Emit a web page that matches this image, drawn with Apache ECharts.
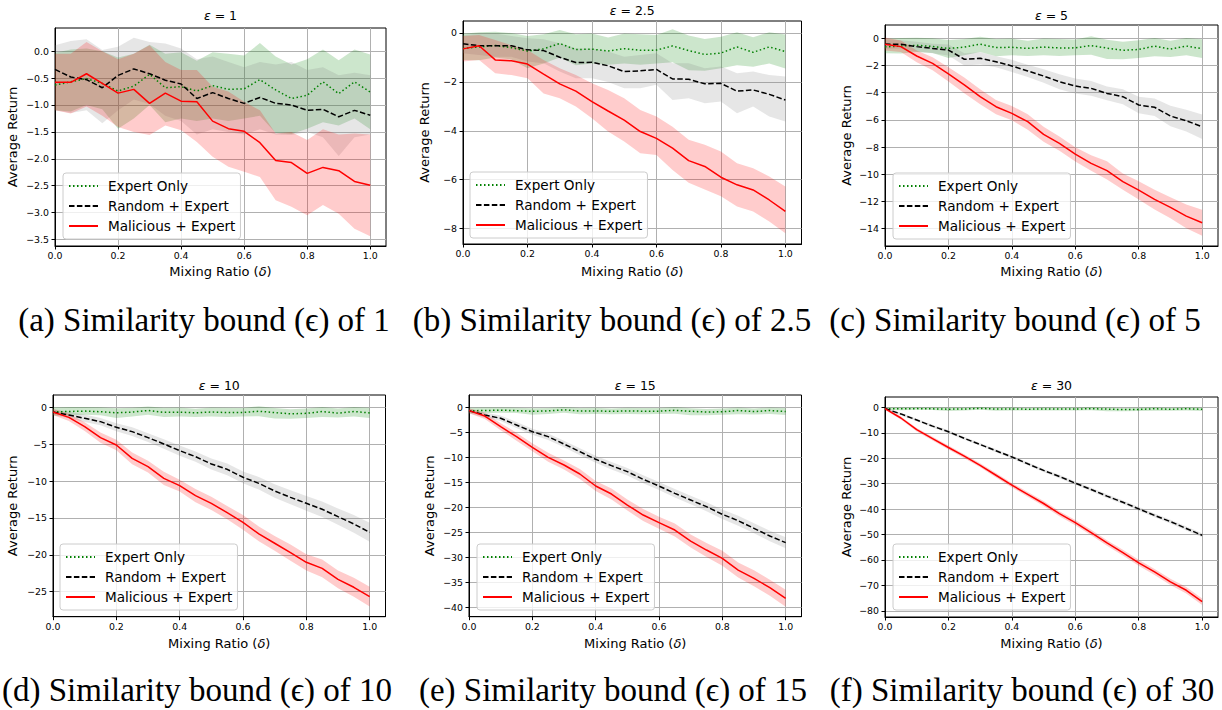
<!DOCTYPE html>
<html><head><meta charset="utf-8">
<script src="https://cdn.jsdelivr.net/npm/echarts@6/dist/echarts.min.js"></script>
<style>html,body{margin:0;padding:0;background:#fff}#c{width:1222px;height:710px}</style>
</head><body><div id="c"></div>
<script>
// ---------- data ----------
const xValues = [0, 0.05, 0.1, 0.15, 0.2, 0.25, 0.3, 0.35, 0.4, 0.45, 0.5, 0.55, 0.6, 0.65, 0.7, 0.75, 0.8, 0.85, 0.9, 0.95, 1.0];
const xTicks = [0, 0.2, 0.4, 0.6, 0.8, 1.0];

const epsilonLabels = ['1', '2.5', '5', '10', '15', '30'];
const captionLetters = ['a', 'b', 'c', 'd', 'e', 'f'];
const seriesNames = ['Expert Only', 'Random + Expert', 'Malicious + Expert'];

const expertMean = [-0.63,-0.57,-0.51,-0.6,-0.74,-0.65,-0.43,-0.68,-0.66,-0.74,-0.64,-0.71,-0.7,-0.53,-0.72,-0.88,-0.82,-0.57,-0.79,-0.57,-0.76];
const expertHigh = [-0.03,0.03,0.05,0.0,-0.12,-0.05,0.12,-0.05,-0.02,-0.18,-0.02,-0.05,-0.08,0.15,-0.1,-0.25,-0.15,0.03,-0.17,0.03,-0.06];
const expertLow  = [-1.1,-1.12,-1.0,-1.08,-1.44,-1.25,-1.0,-1.32,-1.25,-1.3,-1.25,-1.3,-1.25,-1.2,-1.52,-1.54,-1.44,-1.32,-1.38,-1.25,-1.45];

// (a) eps = 1
const randMeanA = [-0.34,-0.48,-0.53,-0.68,-0.45,-0.33,-0.42,-0.54,-0.61,-0.88,-0.77,-0.88,-0.97,-0.86,-0.97,-1.0,-1.1,-1.08,-1.22,-1.1,-1.19];
const randHighA = [0.11,0.19,0.22,0.02,0.08,0.25,0.17,0.14,0.05,-0.15,-0.1,-0.2,-0.3,-0.2,-0.25,-0.2,-0.35,-0.3,-0.45,-0.4,-0.45];
const randLowA  = [-1.1,-1.15,-1.1,-1.34,-1.1,-0.9,-0.98,-1.2,-1.3,-1.55,-1.45,-1.5,-1.55,-1.45,-1.55,-1.56,-1.5,-1.6,-1.95,-1.6,-1.55];
const malMeanA  = [-0.58,-0.58,-0.42,-0.6,-0.78,-0.71,-0.97,-0.78,-0.93,-0.94,-1.3,-1.44,-1.49,-1.7,-2.03,-2.07,-2.27,-2.16,-2.22,-2.42,-2.49];
const malHighA  = [-0.05,-0.05,0.17,0.0,-0.15,-0.05,0.11,-0.2,-0.35,-0.35,-0.66,-0.75,-0.94,-1.1,-1.53,-1.5,-1.65,-1.45,-1.55,-1.53,-1.55];
const malLowA   = [-1.1,-1.16,-1.03,-1.2,-1.41,-1.5,-1.56,-1.38,-1.47,-1.69,-1.96,-2.15,-2.24,-2.34,-2.77,-2.89,-3.05,-2.86,-3.02,-3.3,-3.44];

// (b) eps = 2.5
const randMeanB = [-0.44,-0.52,-0.52,-0.52,-0.69,-0.72,-0.99,-1.21,-1.2,-1.34,-1.58,-1.55,-1.49,-1.88,-1.89,-2.08,-2.06,-2.38,-2.33,-2.51,-2.74];
const randHighB = [-0.08,-0.02,-0.02,-0.12,-0.22,-0.26,-0.42,-0.63,-0.63,-0.76,-0.97,-0.9,-0.83,-1.24,-1.24,-1.44,-1.37,-1.65,-1.58,-1.72,-1.78];
const randLowB  = [-0.83,-0.9,-0.97,-0.97,-1.17,-1.24,-1.58,-1.85,-1.85,-2.0,-2.26,-2.26,-2.12,-2.74,-2.67,-2.87,-2.8,-3.28,-3.01,-3.42,-3.62];
const malMeanB  = [-0.65,-0.52,-1.1,-1.14,-1.27,-1.68,-2.08,-2.38,-2.81,-3.19,-3.56,-4.03,-4.31,-4.71,-5.22,-5.46,-5.9,-6.21,-6.42,-6.83,-7.3];
const malHighB  = [-0.12,-0.08,-0.29,-0.5,-0.7,-1.1,-1.44,-1.72,-2.06,-2.33,-2.67,-3.15,-3.42,-3.83,-4.37,-4.57,-4.85,-5.33,-5.53,-5.87,-6.28];
const malLowB   = [-1.17,-1.1,-1.65,-1.72,-1.85,-2.47,-2.67,-3.01,-3.49,-4.03,-4.44,-4.92,-4.99,-5.6,-6.13,-6.4,-6.68,-7.1,-7.3,-7.71,-8.19];

// (c) eps = 5
const randMeanC = [-0.42,-0.44,-0.61,-0.74,-0.86,-1.54,-1.47,-1.72,-2.03,-2.4,-2.77,-3.19,-3.51,-3.68,-4.05,-4.29,-4.9,-5.07,-5.71,-6.06,-6.5];
const randHighC = [-0.07,-0.14,-0.26,-0.39,-0.46,-1.09,-1.02,-1.32,-1.58,-1.95,-2.27,-2.64,-2.96,-3.13,-3.55,-3.74,-4.3,-4.42,-4.96,-5.26,-5.6];
const randLowC  = [-0.77,-0.74,-0.96,-1.09,-1.26,-1.99,-1.92,-2.12,-2.48,-2.85,-3.27,-3.74,-4.06,-4.23,-4.55,-4.84,-5.5,-5.72,-6.46,-6.86,-7.4];
const malMeanC  = [-0.44,-0.61,-1.3,-1.84,-2.62,-3.43,-4.29,-5.03,-5.52,-6.13,-7.06,-7.72,-8.51,-9.19,-9.73,-10.54,-11.16,-11.84,-12.43,-13.07,-13.56];
const malHighC  = [0.06,-0.16,-0.9,-1.39,-2.12,-2.88,-3.74,-4.53,-4.97,-5.58,-6.51,-7.22,-8.01,-8.59,-9.03,-9.94,-10.51,-11.14,-11.68,-12.22,-12.61];
const malLowC   = [-0.89,-1.01,-1.75,-2.34,-3.17,-4.03,-4.84,-5.58,-6.02,-6.73,-7.61,-8.27,-9.06,-9.74,-10.38,-11.14,-11.86,-12.59,-13.23,-13.97,-14.51];

// (d) eps = 10
const randMeanD = [-0.63,-1.04,-1.49,-1.94,-2.71,-3.3,-4.11,-4.97,-5.88,-6.69,-7.69,-8.41,-9.49,-10.31,-11.35,-12.21,-13.02,-13.83,-14.83,-15.82,-16.95];
const randHighD = [-0.23,-0.59,-0.99,-1.44,-2.16,-2.7,-3.51,-4.32,-5.18,-5.99,-6.94,-7.61,-8.69,-9.46,-10.45,-11.26,-12.02,-12.78,-13.73,-14.62,-15.65];
const randLowD  = [-1.03,-1.49,-1.99,-2.44,-3.26,-3.9,-4.71,-5.62,-6.58,-7.39,-8.44,-9.21,-10.29,-11.16,-12.25,-13.16,-14.02,-14.88,-15.93,-17.02,-18.25];
const malMeanD  = [-0.63,-1.36,-2.62,-4.11,-5.11,-6.92,-8.05,-9.63,-10.62,-11.98,-13.02,-14.29,-15.6,-17.18,-18.44,-19.71,-21.02,-21.84,-23.33,-24.41,-25.68];
const malHighD  = [-0.23,-0.86,-2.02,-3.41,-4.41,-6.12,-7.25,-8.73,-9.82,-11.08,-12.12,-13.39,-14.6,-16.18,-17.44,-18.61,-19.92,-20.64,-22.13,-23.11,-24.33];
const malLowD   = [-1.03,-1.86,-3.22,-4.81,-5.81,-7.72,-8.85,-10.53,-11.42,-12.88,-13.92,-15.19,-16.6,-18.18,-19.44,-20.81,-22.12,-23.04,-24.53,-25.71,-27.03];

// (e) eps = 15
const randMeanE = [-0.6,-1.47,-2.13,-3.47,-4.8,-5.8,-7.27,-8.8,-10.33,-11.6,-12.8,-14.33,-15.67,-17.13,-18.47,-19.8,-21.33,-22.6,-24.13,-25.67,-27.0];
const randHighE = [-0.1,-0.97,-1.58,-2.87,-4.2,-5.15,-6.62,-8.1,-9.63,-10.85,-12.05,-13.53,-14.87,-16.28,-17.62,-18.9,-20.38,-21.6,-23.13,-24.62,-25.9];
const randLowE  = [-1.1,-1.97,-2.68,-4.07,-5.4,-6.45,-7.92,-9.5,-11.03,-12.35,-13.55,-15.13,-16.47,-17.98,-19.32,-20.7,-22.28,-23.6,-25.13,-26.72,-28.1];
const malMeanE  = [-0.6,-1.67,-3.8,-5.8,-7.93,-9.93,-11.47,-13.27,-15.67,-17.27,-19.47,-21.47,-23.0,-24.47,-26.67,-28.47,-30.13,-32.47,-34.13,-36.0,-38.13];
const malHighE  = [-0.1,-1.07,-3.1,-5.0,-7.13,-9.03,-10.57,-12.27,-14.67,-16.17,-18.37,-20.27,-21.8,-23.17,-25.37,-27.07,-28.63,-30.97,-32.53,-34.4,-36.43];
const malLowE   = [-1.1,-2.27,-4.5,-6.6,-8.73,-10.83,-12.37,-14.27,-16.67,-18.37,-20.57,-22.67,-24.2,-25.77,-27.97,-29.87,-31.63,-33.97,-35.73,-37.6,-39.83];

// (f) eps = 30
const randMeanF = [-0.5,-2.6,-5.0,-7.4,-9.6,-12.2,-14.6,-17.1,-19.5,-22.2,-24.8,-27.2,-29.8,-32.3,-34.9,-37.3,-39.9,-42.5,-44.9,-47.6,-50.3];
const randHighF = [0.0,-2.1,-4.5,-6.9,-9.05,-11.65,-14.05,-16.5,-18.9,-21.6,-24.2,-26.55,-29.15,-31.65,-34.2,-36.6,-39.2,-41.75,-44.15,-46.8,-49.5];
const randLowF  = [-1.0,-3.1,-5.5,-7.9,-10.15,-12.75,-15.15,-17.7,-20.1,-22.8,-25.4,-27.85,-30.45,-32.95,-35.6,-38.0,-40.6,-43.25,-45.65,-48.4,-51.1];
const malMeanF  = [-0.5,-4.2,-8.8,-12.3,-15.8,-19.2,-22.8,-26.7,-30.6,-34.2,-37.8,-41.8,-45.3,-49.2,-53.3,-57.1,-61.1,-64.7,-68.6,-71.9,-76.4];
const malHighF  = [0.1,-3.6,-8.1,-11.6,-15.0,-18.4,-22.0,-25.8,-29.7,-33.3,-36.8,-40.8,-44.3,-48.1,-52.2,-56.0,-59.9,-63.5,-67.4,-70.6,-75.1];
const malLowF   = [-1.1,-4.8,-9.5,-13.0,-16.6,-20.0,-23.6,-27.6,-31.5,-35.1,-38.8,-42.8,-46.3,-50.3,-54.4,-58.2,-62.3,-65.9,-69.8,-73.2,-77.7];

// y tick labels per panel
const yTicksA = [0, -0.5, -1, -1.5, -2, -2.5, -3, -3.5];
const yTicksB = [0, -2, -4, -6, -8];
const yTicksC = [0, -2, -4, -6, -8, -10, -12, -14];
const yTicksD = [0, -5, -10, -15, -20, -25];
const yTicksE = [0, -5, -10, -15, -20, -25, -30, -35, -40];
const yTicksF = [0, -10, -20, -30, -40, -50, -60, -70, -80];

// ---------- layout / style ----------
const panels = [
  {rand:[randLowA,randMeanA,randHighA], mal:[malLowA,malMeanA,malHighA], ticks:yTicksA, dec:1, ymin:-3.62, ymax:0.43,
   g:[55,28,331,218], yGap:36, xGap:19, titleY:15, leg:[63,173], cap:[204,320]},
  {rand:[randLowB,randMeanB,randHighB], mal:[malLowB,malMeanB,malHighB], ticks:yTicksB, dec:0, ymin:-8.63, ymax:0.49,
   g:[463,21,338.5,223], yGap:32, xGap:21, titleY:10, leg:[470,172], cap:[612,320]},
  {rand:[randLowC,randMeanC,randHighC], mal:[malLowC,malMeanC,malHighC], ticks:yTicksC, dec:0, ymin:-15.27, ymax:0.98,
   g:[885,25,333,221], yGap:32, xGap:19, titleY:15, leg:[893,173], cap:[1015,320]},
  {rand:[randLowD,randMeanD,randHighD], mal:[malLowD,malMeanD,malHighD], ticks:yTicksD, dec:0, ymin:-28.4, ymax:1.67,
   g:[53,395,332.5,221.7], yGap:34, xGap:20, titleY:385, leg:[60,544], cap:[197,690]},
  {rand:[randLowE,randMeanE,randHighE], mal:[malLowE,malMeanE,malHighE], ticks:yTicksE, dec:0, ymin:-41.8, ymax:2.53,
   g:[469,395,332.5,221.7], yGap:33, xGap:20, titleY:385, leg:[477,544], cap:[613,690]},
  {rand:[randLowF,randMeanF,randHighF], mal:[malLowF,malMeanF,malHighF], ticks:yTicksF, dec:0, ymin:-82.4, ymax:4.05,
   g:[885,397,333,220], yGap:32, xGap:20, titleY:385, leg:[893,544], cap:[1022,690]}
];

const SANS = 'DejaVu Sans';
const styles = [
  {color:'#008000', band:'rgba(0,128,0,0.2)', type:[1.5,2.5]},
  {color:'#000000', band:'rgba(128,128,128,0.2)', type:[5.5,2.4]},
  {color:'#ff0000', band:'rgba(255,0,0,0.2)', type:'solid'}
];

function pairs(arr) { return xValues.map((x, i) => [x, arr[i]]); }
function fmt(v, dec) { return (dec ? v.toFixed(dec) : String(v)).replace('-', '\u2212'); }

// band drawn as one polygon through the axis scales (api.coord)
function bandSeries(i, lo, hi, color) {
  return {
    type:'custom', xAxisIndex:i, yAxisIndex:i, silent:true, clip:true,
    data:xValues.map((x, j) => [x, lo[j], hi[j]]),
    encode:{x:0, y:[1, 2]},
    renderItem:function (params, api) {
      if (params.dataIndex !== 0) return null;
      const pts = [];
      for (let j = 0; j < xValues.length; j++) pts.push(api.coord([xValues[j], hi[j]]));
      for (let j = xValues.length - 1; j >= 0; j--) pts.push(api.coord([xValues[j], lo[j]]));
      return {type:'polygon', shape:{points:pts}, style:{fill:color, stroke:null}};
    }
  };
}

const grids = [], xAxes = [], yAxes = [], series = [], legends = [], graphics = [];

panels.forEach((p, i) => {
  grids.push({left:p.g[0], top:p.g[1], width:p.g[2], height:p.g[3], show:true, borderColor:'#000', borderWidth:1,
    backgroundColor:'transparent', containLabel:false, outerBoundsMode:'none'});
  xAxes.push({type:'value', gridIndex:i, min:0, max:1.05,
    name:'Mixing Ratio ({i|δ})', nameLocation:'middle', nameGap:p.xGap,
    nameTextStyle:{fontFamily:SANS, fontSize:13, color:'#000', rich:{i:{fontFamily:SANS, fontSize:13, fontStyle:'italic', color:'#000'}}},
    axisLine:{show:true, onZero:false, lineStyle:{color:'#000', width:1}},
    axisTick:{show:true, length:3.5, lineStyle:{color:'#000', width:1}, customValues:xTicks},
    axisLabel:{customValues:xTicks, formatter:v => fmt(v, 1), fontFamily:SANS, fontSize:9.4, color:'#000', margin:5},
    splitLine:{show:true, lineStyle:{color:'#b0b0b0', width:1}}
  });
  yAxes.push({type:'value', gridIndex:i, min:p.ymin, max:p.ymax,
    name:'Average Return', nameLocation:'middle', nameGap:p.yGap,
    nameTextStyle:{fontFamily:SANS, fontSize:13, color:'#000'},
    axisLine:{show:true, onZero:false, lineStyle:{color:'#000', width:1}},
    axisTick:{show:true, length:3.5, lineStyle:{color:'#000', width:1}, customValues:p.ticks},
    axisLabel:{customValues:p.ticks, formatter:v => fmt(v, p.dec), fontFamily:SANS, fontSize:9.4, color:'#000', margin:6},
    splitLine:{show:true, lineStyle:{color:'#b0b0b0', width:1}}
  });

  const groups = [[expertLow, expertMean, expertHigh], p.rand, p.mal];
  groups.forEach((grp, k) => {
    const st = styles[k];
    series.push(bandSeries(i, grp[0], grp[2], st.band));
    series.push({type:'line', name:seriesNames[k], xAxisIndex:i, yAxisIndex:i, data:pairs(grp[1]),
      symbol:'none', silent:true, itemStyle:{color:st.color},
      lineStyle:{color:st.color, width:1.5, type:st.type, cap:'butt'}});
  });

  legends.push({data:seriesNames, orient:'vertical', left:p.leg[0], top:p.leg[1],
    itemWidth:29, itemHeight:14, itemGap:6, padding:[6,5,6,5],
    backgroundColor:'rgba(255,255,255,0.8)', borderColor:'#cccccc', borderWidth:1, borderRadius:3,
    itemStyle:{opacity:0, borderWidth:0},
    textStyle:{fontFamily:SANS, fontSize:13.6, color:'#000', lineHeight:14, padding:[0,0,0,5]},
    selectedMode:false});

  graphics.push({type:'text', x:p.g[0] + p.g[2] / 2, y:p.titleY,
    style:{text:'{e|ε} = ' + epsilonLabels[i], fontFamily:SANS, fontSize:12.5, fill:'#000',
      textAlign:'center', textVerticalAlign:'middle', align:'center', verticalAlign:'middle',
      rich:{e:{fontFamily:SANS, fontSize:12.5, fontStyle:'italic', fill:'#000'}}}});
  graphics.push({type:'text', x:p.cap[0], y:p.cap[1],
    style:{text:'(' + captionLetters[i] + ') Similarity bound (\u03f5) of ' + epsilonLabels[i],
      fontFamily:'Liberation Serif', fontSize:33, fill:'#000',
      textAlign:'center', textVerticalAlign:'middle', align:'center', verticalAlign:'middle'}});
});

const chart = echarts.init(document.getElementById('c'), null, {renderer:'svg', width:1222, height:710});
chart.setOption({
  animation:false,
  backgroundColor:'#ffffff',
  grid:grids, xAxis:xAxes, yAxis:yAxes, series:series, legend:legends,
  graphic:{elements:graphics}
});
</script>
</body></html>
